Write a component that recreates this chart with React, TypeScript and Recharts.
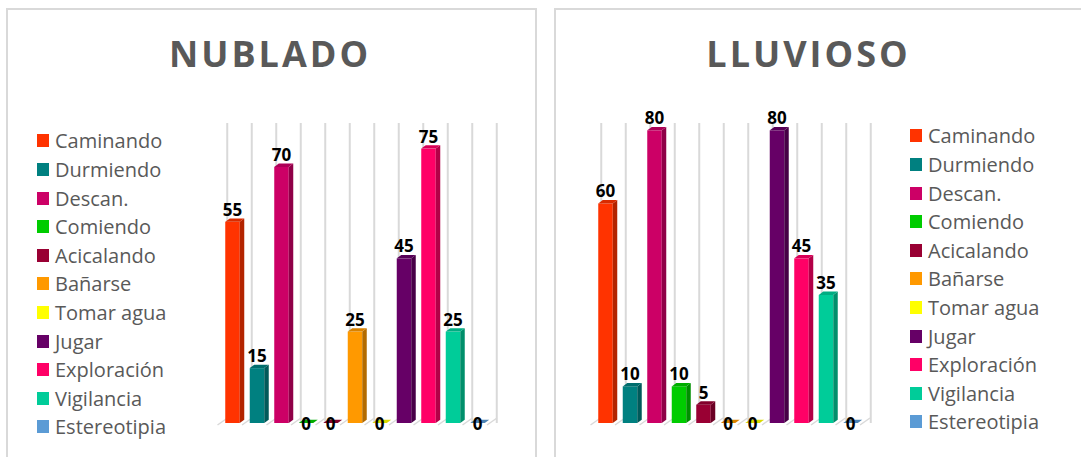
import React from 'react';
import { BarChart, Bar, Cell, XAxis, YAxis, CartesianGrid, LabelList } from 'recharts';

const CATEGORIES = [
  'Caminando',
  'Durmiendo',
  'Descan.',
  'Comiendo',
  'Acicalando',
  'Bañarse',
  'Tomar agua',
  'Jugar',
  'Exploración',
  'Vigilancia',
  'Estereotipia',
];

const COLORS = [
  '#FF3300',
  '#008080',
  '#CC0066',
  '#00CC00',
  '#990033',
  '#FF9900',
  '#FFFF00',
  '#660066',
  '#FF0066',
  '#00CC99',
  '#5B9BD5',
];

const NUBLADO = [55, 15, 70, 0, 0, 25, 0, 45, 75, 25, 0];
const LLUVIOSO = [60, 10, 80, 10, 5, 0, 0, 80, 45, 35, 0];

const BAND = 24.5;
const DEPTH = 4.5;
const GRID = '#d9d9d9';
const TEXT = '#595959';

function darken(hex: string, f: number) {
  const n = parseInt(hex.slice(1), 16);
  const r = Math.round(((n >> 16) & 255) * f);
  const g = Math.round(((n >> 8) & 255) * f);
  const b = Math.round((n & 255) * f);
  return `rgb(${r},${g},${b})`;
}

// front face + side + top, Excel style 3D column
function Bar3D(props: any) {
  const { x, y, width, height, fill, index } = props;
  const d = DEPTH;
  const dy = d * 0.75;
  const w = width - d;
  const base = y + height;
  const left = x + width / 2 - BAND / 2;
  const floor = (bx: number, k: string) => (
    <line key={k} x1={bx - 5} y1={base + 2} x2={bx + 5} y2={base - 5} stroke={GRID} strokeWidth={1.5} />
  );
  return (
    <g>
      {floor(left, 'l')}
      {index === CATEGORIES.length - 1 && floor(left + BAND, 'r')}
      {height > 0 && <rect x={x} y={y} width={w} height={height} fill={fill} />}
      {height > 0 && (
        <polygon
          points={`${x + w},${y} ${x + w + d},${y - dy} ${x + w + d},${base - dy} ${x + w},${base}`}
          fill={darken(fill, 0.7)}
        />
      )}
      <polygon
        points={`${x},${y} ${x + d},${y - dy} ${x + w + d},${y - dy} ${x + w},${y}`}
        fill={darken(fill, 0.85)}
      />
    </g>
  );
}

function ValueLabel(props: any) {
  const { x, y, width, height, value } = props;
  const cx = x + (width - DEPTH) / 2;
  const ty = value === 0 ? y + height + 7 : y - 6;
  return (
    <text x={cx} y={ty} textAnchor="middle" fontFamily="Open Sans" fontWeight={700} fontSize={17} fill="#000">
      {value}
    </text>
  );
}

interface PanelProps {
  title: string;
  values: number[];
  left: number;
  width: number;
  plotLeft: number;
  gridShift: number;
  titleX: number;
  legendX: number;
  legendY: number;
}

function Panel({ title, values, left, width, plotLeft, gridShift, titleX, legendX, legendY }: PanelProps) {
  const data = CATEGORIES.map((name, i) => ({ name, value: values[i] }));
  const plotRight = plotLeft + BAND * CATEGORIES.length;
  const gridX = CATEGORIES.map((_, i) => plotLeft + i * BAND + gridShift).concat(plotRight + gridShift);
  return (
    <div style={{ position: 'absolute', left, top: 0, width, height: 457 }}>
      <div
        style={{
          position: 'absolute',
          left: titleX - 200,
          width: 400,
          top: 28,
          textAlign: 'center',
          fontFamily: 'Open Sans',
          fontWeight: 700,
          fontSize: 36,
          letterSpacing: 3,
          color: TEXT,
          lineHeight: '52px',
        }}
      >
        {title}
      </div>
      <div style={{ position: 'absolute', left: 0, top: 0 }}>
        <BarChart
          width={width}
          height={457}
          data={data}
          margin={{ top: 123, bottom: 34, left: plotLeft, right: width - plotRight }}
        >
          <CartesianGrid horizontal={false} verticalPoints={gridX} stroke={GRID} strokeWidth={2} />
          <XAxis dataKey="name" hide />
          <YAxis hide domain={[0, 82]} />
          <Bar dataKey="value" barSize={19} shape={<Bar3D />} isAnimationActive={false}>
            {data.map((_, i) => (
              <Cell key={i} fill={COLORS[i]} />
            ))}
            <LabelList dataKey="value" content={<ValueLabel />} />
          </Bar>
        </BarChart>
      </div>
      <div style={{ position: 'absolute', left: legendX, top: legendY }}>
        {CATEGORIES.map((c, i) => (
          <div key={c} style={{ height: 28.6, display: 'flex', alignItems: 'center' }}>
            <span style={{ width: 12, height: 13, background: COLORS[i], marginRight: 6, display: 'inline-block' }} />
            <span style={{ fontFamily: 'Open Sans', fontSize: 20, color: TEXT, whiteSpace: 'nowrap' }}>{c}</span>
          </div>
        ))}
      </div>
    </div>
  );
}

export default function App() {
  return (
    <div style={{ position: 'absolute', left: 0, top: 0, width: 1081, height: 457, background: '#fff', overflow: 'hidden' }}>
      <div
        style={{ position: 'absolute', left: 6, top: 8, width: 531, height: 470, border: `2px solid ${GRID}`, boxSizing: 'border-box' }}
      />
      <div
        style={{ position: 'absolute', left: 554, top: 8, width: 540, height: 470, border: `2px solid ${GRID}`, boxSizing: 'border-box' }}
      />
      <Panel
        title="NUBLADO"
        values={NUBLADO}
        left={0}
        width={540}
        plotLeft={222.25}
        gridShift={5}
        titleX={270}
        legendX={37}
        legendY={141 - 14.3}
      />
      <Panel
        title="LLUVIOSO"
        values={LLUVIOSO}
        left={540}
        width={541}
        plotLeft={55.25}
        gridShift={6}
        titleX={268.5}
        legendX={370}
        legendY={136 - 14.3}
      />
    </div>
  );
}
